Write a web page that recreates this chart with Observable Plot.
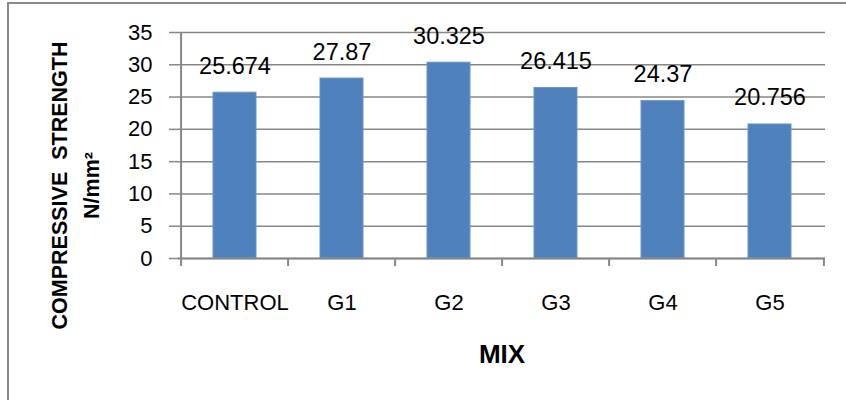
<!DOCTYPE html>
<html>
<head>
<meta charset="utf-8">
<script src="https://cdn.jsdelivr.net/npm/d3@7"></script>
<script src="https://cdn.jsdelivr.net/npm/@observablehq/plot@0.6"></script>
<style>
  html, body { margin: 0; padding: 0; background: #fff; overflow: hidden; }
  #wrap { position: relative; width: 846px; height: 400px; overflow: hidden; }
  #wrap svg { position: absolute; left: 0; top: 0; background: transparent; }
  #border { position: absolute; left: 7px; top: 2px; width: 900px; height: 500px;
            border: 2px solid #8a8a8a; pointer-events: none; }
</style>
</head>
<body>
<div id="wrap"><div id="border"></div></div>
<script>
const categories = ["CONTROL", "G1", "G2", "G3", "G4", "G5"];
const values = [25.674, 27.87, 30.325, 26.415, 24.37, 20.756];
const valueLabels = ["25.674", "27.87", "30.325", "26.415", "24.37", "20.756"];
const yTicks = [0, 5, 10, 15, 20, 25, 30, 35];
const yTitle = "COMPRESSIVE\u00a0 STRENGTH\nN/mm\u00b2";
const xTitle = "MIX";

const data = categories.map((c, i) => ({cat: c, value: values[i], label: valueLabels[i]}));

const W = 846, H = 400;
const mL = 178, mR = 21, mT = 32, mB = 142;
const font = "'Liberation Sans', Arial, sans-serif";
const grey = "#878787";

const xOpts = {domain: categories, paddingInner: 0.6, paddingOuter: 0.3, align: 0.5};
const xs = Plot.scale({x: {type: "band", ...xOpts, range: [mL, W - mR]}});
const half = xs.step / 2;

const chart = Plot.plot({
  width: W, height: H,
  marginLeft: mL, marginRight: mR, marginTop: mT, marginBottom: mB,
  style: {fontFamily: font, background: "transparent", color: "#000"},
  x: {type: "band", ...xOpts},
  y: {domain: [0, 35], ticks: yTicks},
  marks: [
    Plot.gridY(yTicks, {stroke: grey, strokeOpacity: 1, strokeWidth: 1.5}),
    Plot.barY(data, {x: "cat", y: "value", fill: "#4f81bd", stroke: "#6a93c8", strokeWidth: 1}),
    Plot.ruleY([0], {stroke: grey, strokeWidth: 2}),
    Plot.ruleX([categories[0]], {x: d => d, dx: -half, stroke: grey, strokeWidth: 2}),
    Plot.ruleX(categories, {x: d => d, dx: -half, y1: 0, y2: 0, insetBottom: -8, stroke: grey, strokeWidth: 2}),
    Plot.ruleX([categories[categories.length - 1]], {x: d => d, dx: half, y1: 0, y2: 0, insetBottom: -8, stroke: grey, strokeWidth: 2}),
    Plot.axisY(yTicks, {tickSize: 9, tickPadding: 17, stroke: grey, strokeWidth: 1.5, fill: "#000", fontSize: 22, label: null}),
    Plot.axisX({tickSize: 0, tickPadding: 36, fill: "#000", fontSize: 22, label: null}),
    Plot.text(data, {x: "cat", y: "value", text: "label", lineAnchor: "bottom", dy: -19, fontSize: 23.5, fill: "#000"}),
    Plot.text([yTitle], {frameAnchor: "left", rotate: -90, dx: -106, dy: 40, fontWeight: "bold", fontSize: 21.5, lineHeight: 1.5, lineAnchor: "middle", textAnchor: "middle", fill: "#000"}),
    Plot.text([xTitle], {frameAnchor: "bottom", dy: 104, lineAnchor: "bottom", fontWeight: "bold", fontSize: 26, fill: "#000"})
  ]
});
document.getElementById("wrap").insertBefore(chart, document.getElementById("border"));
</script>
</body>
</html>
